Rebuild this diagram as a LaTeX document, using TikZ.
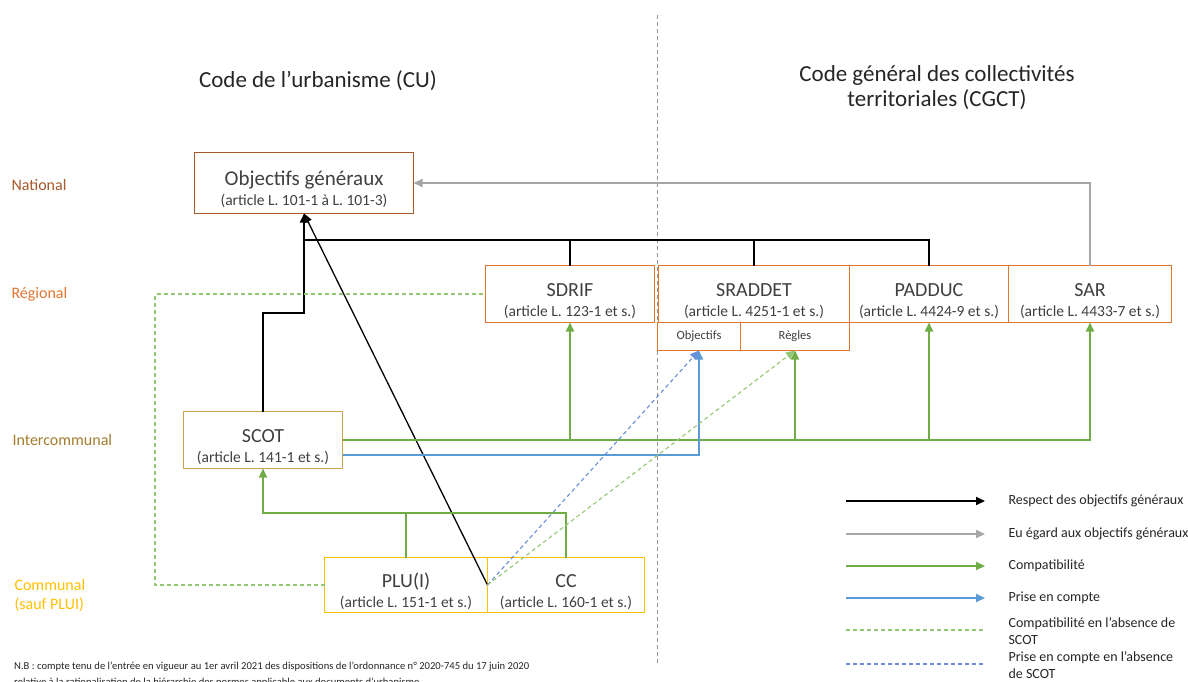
\documentclass[tikz,border=0pt]{standalone}
\usepackage{fontspec}
\setmainfont{Carlito}
\usetikzlibrary{arrows.meta,calc}

\definecolor{txt}{HTML}{404040}
\definecolor{natc}{HTML}{A5582A}
\definecolor{regc}{HTML}{E07631}
\definecolor{interc}{HTML}{A67C2E}
\definecolor{scotc}{HTML}{CCA24E}
\definecolor{comc}{HTML}{FFC000}
\definecolor{grn}{HTML}{70AD47}
\definecolor{grnl}{HTML}{94C774}
\definecolor{blu}{HTML}{5B9BD5}
\definecolor{blul}{HTML}{6A8FD6}
\definecolor{gry}{HTML}{A6A6A6}

% two-line content of a document box: name, then article reference
\newcommand{\boxtext}[3]{{\fontsize{#1}{20}\selectfont\rule{0pt}{27pt}#2}\\{\fontsize{15.5}{20}\selectfont #3}}

\begin{document}
\begin{tikzpicture}[x=1pt,y=-1pt,
  box/.style={draw, line width=1pt, inner sep=0pt, outer sep=0pt, align=center,
    text=txt, font=\fontsize{15.5}{20}\selectfont},
  subbox/.style={draw=regc, line width=1pt, inner sep=0pt, outer sep=0pt,
    text=txt, font=\fontsize{12.5}{15}\selectfont, minimum height=28pt},
  tip/.style={-{Triangle[length=9pt,width=8pt]}},
  lblk/.style={line width=1.7pt, black, tip},
  lgry/.style={line width=1.7pt, gry, tip},
  lgrn/.style={line width=1.7pt, grn},
  lblu/.style={line width=1.7pt, blu},
  lgrnd/.style={line width=1.1pt, grnl, dash pattern=on 4pt off 3pt},
  lblud/.style={line width=1.1pt, blul, dash pattern=on 4pt off 3pt},
  level/.style={anchor=west, font=\fontsize{16}{19}\selectfont, align=left},
  title/.style={font=\fontsize{23}{25}\selectfont, align=center, text=black!85},
  legtxt/.style={anchor=west, font=\fontsize{14}{17}\selectfont, align=left, text=black!85},
]
\useasboundingbox (0,0) rectangle (1188,681);
\clip (0,0) rectangle (1188,681);
\fill[white] (0,0) rectangle (1188,681);

% dividing line between the two codes
\coordinate (divtop) at (657,15);
\coordinate (divbot) at (657,665);
\draw[gry!90!black, line width=1pt, dash pattern=on 4pt off 3pt] (divtop) -- (divbot);

% headings
\node[title] (tcu) at (318,81) {Code de l’urbanisme (CU)};
\node[title] (tcgct) at (937,88) {Code général des collectivités\\territoriales (CGCT)};

% level labels
\node[level, text=natc] (lnat) at (8,185) {National};
\node[level, text=regc] (lreg) at (8,294) {Régional};
\node[level, text=interc] (lint) at (9,440) {Intercommunal};
\node[level, text=comc] (lcom) at (11,596) {Communal\\(sauf PLUI)};

% documents
\node[box, draw=natc, minimum width=219pt, minimum height=61pt] (obj) at (304,183)
  {\boxtext{21}{Objectifs généraux}{(article L. 101-1 à L. 101-3)}};
\node[box, draw=regc, minimum width=169pt, minimum height=57pt] (sdrif) at (570,294)
  {\boxtext{20}{SDRIF}{(article L. 123-1 et s.)}};
\node[box, draw=regc, minimum width=191pt, minimum height=57pt] (sraddet) at (754,294)
  {\boxtext{20}{SRADDET}{(article L. 4251-1 et s.)}};
\node[subbox, minimum width=83pt] (obji) at (699,336.5) {Objectifs};
\node[subbox, minimum width=109pt] (regles) at (795,336.5) {Règles};
\node[box, draw=regc, minimum width=159pt, minimum height=57pt] (padduc) at (929,294)
  {\boxtext{20}{PADDUC}{(article L. 4424-9 et s.)}};
\node[box, draw=regc, minimum width=163pt, minimum height=57pt] (sar) at (1090,294)
  {\boxtext{20}{SAR}{(article L. 4433-7 et s.)}};
\node[box, draw=scotc, minimum width=159pt, minimum height=57pt] (scot) at (263,440)
  {\boxtext{20}{SCOT}{(article L. 141-1 et s.)}};
\node[box, draw=comc, minimum width=163pt, minimum height=55pt] (plu) at (406,585)
  {\boxtext{20}{PLU(I)}{(article L. 151-1 et s.)}};
\node[box, draw=comc, minimum width=157pt, minimum height=55pt] (cc) at (566,585)
  {\boxtext{20}{CC}{(article L. 160-1 et s.)}};

% respect des objectifs generaux
\draw[lblk] (scot.north) -- (scot.north |- 0,313) -| (obj.south);
\draw[line width=1.7pt] (obj.south |- 0,240) -| (padduc.north);
\draw[line width=1.7pt] (sdrif.north) -- (sdrif.north |- 0,240);
\draw[line width=1.7pt] (sraddet.north) -- (sraddet.north |- 0,240);
\draw[lblk, line width=1.3pt] (plu.east) -- (obj.south);

% eu egard
\draw[lgry] (sar.north) |- (obj.east);

% compatibilite du SCOT
\draw[lgrn, tip] (scot.east) -| (sar.south);
\draw[lgrn, tip] (sdrif.south |- scot.east) -- (sdrif.south);
\draw[lgrn, tip] (regles.south |- scot.east) -- (regles.south);
\draw[lgrn, tip] (padduc.south |- scot.east) -- (padduc.south);

% prise en compte par le SCOT
\draw[lblu, tip] ([yshift=-15pt]scot.east) -| (obji.south);

% compatibilite des PLU(I) et CC
\draw[lgrn, tip] (cc.north) |- (scot.south |- 0,513) -- (scot.south);
\draw[lgrn] (plu.north) -- (plu.north |- 0,513);

% en l'absence de SCOT
\draw[lgrnd] (plu.west) -| (155,294) -- (sdrif.west);
\draw[lblud, tip] (plu.east) -- (obji.south);
\draw[lgrnd, tip] (plu.east) -- (regles.south);

% legend
\foreach \y/\n in {501/a,534/b,566/c,598/d,630/e,664/f}{
  \coordinate (k\n1) at (846,\y);
  \coordinate (k\n2) at (985,\y);
}
\draw[lblk] (ka1) -- (ka2);
\draw[lgry] (kb1) -- (kb2);
\draw[lgrn, tip] (kc1) -- (kc2);
\draw[lblu, tip] (kd1) -- (kd2);
\draw[lgrnd] (ke1) -- (ke2);
\draw[lblud] (kf1) -- (kf2);
\node[legtxt] (ta) at (1005,501) {Respect des objectifs généraux};
\node[legtxt] (tb) at (1005,534) {Eu égard aux objectifs généraux};
\node[legtxt] (tc) at (1005,566) {Compatibilité};
\node[legtxt] (td) at (1005,598) {Prise en compte};
\node[legtxt] (te) at (1005,631) {Compatibilité en l’absence de\\SCOT};
\node[legtxt] (tf) at (1005,665) {Prise en compte en l’absence\\de SCOT};

% footnote
\node[anchor=north west, font=\fontsize{10.6}{16}\selectfont, align=left, text=black!85, inner sep=0pt] (nb) at (14,662)
  {N.B : compte tenu de l’entrée en vigueur au 1er avril 2021 des dispositions de l’ordonnance n° 2020-745 du 17 juin 2020\\
   relative à la rationalisation de la hiérarchie des normes applicable aux documents d’urbanisme};
\end{tikzpicture}
\end{document}
